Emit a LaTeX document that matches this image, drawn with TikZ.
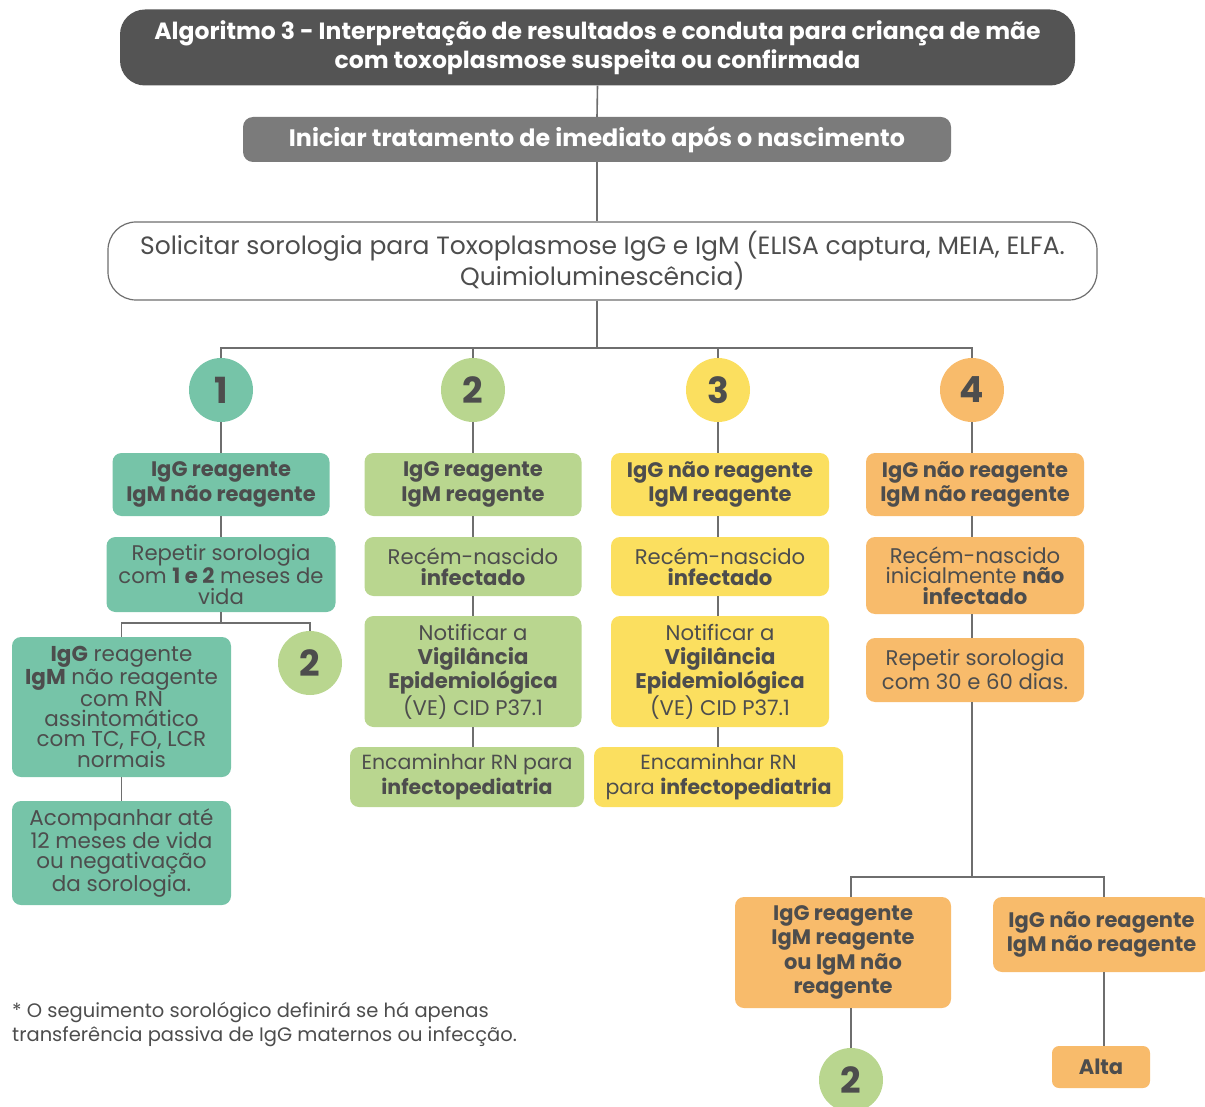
\documentclass[tikz,border=0pt]{standalone}
\usepackage{fontspec}
\setmainfont{Poppins}
\definecolor{titlegray}{HTML}{545454}
\definecolor{midgray}{HTML}{7B7B7B}
\definecolor{txt}{HTML}{4D4D4D}
\definecolor{linec}{HTML}{6E6E6E}
\definecolor{teal}{HTML}{76C4A8}
\definecolor{lgreen}{HTML}{B9D68F}
\definecolor{yel}{HTML}{FBDF5F}
\definecolor{ora}{HTML}{F8BB6B}
\begin{document}
\begin{tikzpicture}[x=1pt,y=-1pt,
  conn/.style={draw=linec, line width=1.6pt},
  cbox/.style={rounded corners=9pt, inner sep=0pt, align=center, text=txt,
    font=\fontsize{21.2}{20.6}\selectfont},
  hbox/.style={cbox, font=\bfseries\fontsize{21}{24.5}\selectfont},
  num/.style={circle, inner sep=0pt, minimum size=64pt, text=txt,
    font=\bfseries\fontsize{36}{36}\selectfont}]
\useasboundingbox (0,0) rectangle (1205,1107);

% top
\node[rounded corners=25pt, fill=titlegray, text=white, align=center, inner sep=0pt,
  minimum width=955pt, minimum height=76pt, font=\bfseries\fontsize{23.5}{29.5}\selectfont]
  (title) at (597.5,47.5) {Algoritmo 3 - Interpretação de resultados e conduta para criança de mãe\\com toxoplasmose suspeita ou confirmada};
\node[rounded corners=10pt, fill=midgray, text=white, inner sep=0pt,
  minimum width=708pt, minimum height=45pt, font=\bfseries\fontsize{23.8}{24}\selectfont]
  (start) at (597,139.5) {Iniciar tratamento de imediato após o nascimento};
\node[rounded corners=28pt, draw=linec, line width=1.2pt, fill=white, text=txt, align=center, inner sep=0pt,
  minimum width=989pt, minimum height=78pt, font=\fontsize{25}{30}\selectfont]
  (sol) at (602.5,261) {Solicitar sorologia para Toxoplasmose IgG e IgM (ELISA captura, MEIA, ELFA.\\Quimioluminescência)};

% circles
\node[num, fill=teal] (c1) at (221,390) {1};
\node[num, fill=lgreen] (c2) at (473,390) {2};
\node[num, fill=yel] (c3) at (718,390) {3};
\node[num, fill=ora] (c4) at (972,390) {4};

\coordinate (j0) at (597,348);
\draw[conn] (title.south) -- (start.north);
\draw[conn] (start.south) -- (start.south |- sol.north);
\draw[conn] (start.south |- sol.south) -- (j0);
\draw[conn] (c1.north) -- (c1.north |- j0) -- (c4.north |- j0) -- (c4.north);
\draw[conn] (c2.north) -- (c2.north |- j0);
\draw[conn] (c3.north) -- (c3.north |- j0);

% column 1
\node[hbox, fill=teal, minimum width=217pt, minimum height=63pt] (a1) at (221,484.5) {IgG reagente\\IgM não reagente};
\node[cbox, fill=teal, minimum width=229pt, minimum height=75pt] (a2) at (221,574.5) {Repetir sorologia\\com \textbf{1 e 2} meses de\\vida};
\node[cbox, fill=teal, minimum width=219pt, minimum height=140pt, font=\fontsize{21.5}{20.4}\selectfont] (a3) at (121.5,707) {\textbf{IgG} reagente\\\textbf{IgM} não reagente\\com RN\\assintomático\\com TC, FO, LCR\\normais};
\node[num, fill=lgreen] (c5) at (310,663) {2};
\node[cbox, fill=teal, minimum width=219pt, minimum height=104pt, font=\fontsize{21.5}{20.6}\selectfont] (a4) at (121.5,853) {Acompanhar até\\12 meses de vida\\ou negativação\\da sorologia.};
\coordinate (j1) at (221,623);
\draw[conn] (c1.south) -- (a1.north);
\draw[conn] (a1.south) -- (a2.north);
\draw[conn] (a2.south) -- (j1);
\draw[conn] (a3.north) -- (a3.north |- j1) -- (c5.north |- j1) -- (c5.north);
\draw[conn] (a3.south) -- (a4.north);

% column 2
\node[hbox, fill=lgreen, minimum width=217pt, minimum height=63pt] (b1) at (473,484.5) {IgG reagente\\IgM reagente};
\node[cbox, fill=lgreen, minimum width=217pt, minimum height=59pt] (b2) at (473,566.5) {Recém-nascido\\\textbf{infectado}};
\node[cbox, fill=lgreen, minimum width=217pt, minimum height=111pt, font=\fontsize{21.2}{24.3}\selectfont] (b3) at (473,671.5) {Notificar a\\\textbf{Vigilância}\\\textbf{Epidemiológica}\\(VE) CID P37.1};
\node[cbox, fill=lgreen, minimum width=234pt, minimum height=60pt, font=\fontsize{20.5}{24.5}\selectfont] (b4) at (467,777) {Encaminhar RN para\\\textbf{infectopediatria}};
\draw[conn] (c2.south) -- (b1.north);
\draw[conn] (b1.south) -- (b2.north);
\draw[conn] (b2.south) -- (b3.north);
\draw[conn] (b3.south) -- (b3.south |- b4.north);

% column 3
\node[hbox, fill=yel, minimum width=218pt, minimum height=63pt] (d1) at (720,484.5) {IgG não reagente\\IgM reagente};
\node[cbox, fill=yel, minimum width=218pt, minimum height=59pt] (d2) at (720,566.5) {Recém-nascido\\\textbf{infectado}};
\node[cbox, fill=yel, minimum width=218pt, minimum height=111pt, font=\fontsize{21.2}{24.3}\selectfont] (d3) at (720,671.5) {Notificar a\\\textbf{Vigilância}\\\textbf{Epidemiológica}\\(VE) CID P37.1};
\node[cbox, fill=yel, minimum width=249pt, minimum height=60pt, font=\fontsize{20.5}{24.5}\selectfont] (d4) at (718.5,777) {Encaminhar RN\\para \textbf{infectopediatria}};
\draw[conn] (c3.south) -- (c3.south |- d1.north);
\draw[conn] (c3.south |- d1.south) -- (c3.south |- d2.north);
\draw[conn] (c3.south |- d2.south) -- (c3.south |- d3.north);
\draw[conn] (c3.south |- d3.south) -- (c3.south |- d4.north);

% column 4
\node[hbox, fill=ora, minimum width=218pt, minimum height=63pt] (e1) at (975,484.5) {IgG não reagente\\IgM não reagente};
\node[cbox, fill=ora, minimum width=218pt, minimum height=77pt] (e2) at (975,575.5) {Recém-nascido\\inicialmente \textbf{não}\\\textbf{infectado}};
\node[cbox, fill=ora, minimum width=218pt, minimum height=64pt, font=\fontsize{21.2}{24}\selectfont] (e3) at (975,670) {Repetir sorologia\\com 30 e 60 dias.};
\node[hbox, fill=ora, minimum width=216pt, minimum height=111pt] (e5) at (843,952.5) {IgG reagente\\IgM reagente\\ou IgM não\\reagente};
\node[hbox, fill=ora, minimum width=217pt, minimum height=75pt] (e6) at (1101.5,934.5) {IgG não reagente\\IgM não reagente};
\node[hbox, fill=ora, minimum width=98pt, minimum height=42pt, rounded corners=7pt] (alta) at (1101,1067) {Alta};
\node[num, fill=lgreen] (c6) at (851,1080) {2};
\coordinate (j2) at (972,877);
\coordinate (j3) at (1104,877);
\draw[conn] (c4.south) -- (c4.south |- e1.north);
\draw[conn] (c4.south |- e1.south) -- (c4.south |- e2.north);
\draw[conn] (c4.south |- e2.south) -- (c4.south |- e3.north);
\draw[conn] (c4.south |- e3.south) -- (j2);
\draw[conn] (c6.north |- e5.north) -- (c6.north |- j2) -- (j3) -- (j3 |- e6.north);
\draw[conn] (c6.north |- e5.south) -- (c6.north);
\draw[conn] (j3 |- e6.south) -- (j3 |- alta.north);

% footnote
\node[anchor=north west, inner sep=0pt, align=left, text=txt, font=\fontsize{19.5}{24}\selectfont] (note) at (12,1002)
  {* O seguimento sorológico definirá se há apenas\\transferência passiva de IgG maternos ou infecção.};
\end{tikzpicture}
\end{document}
